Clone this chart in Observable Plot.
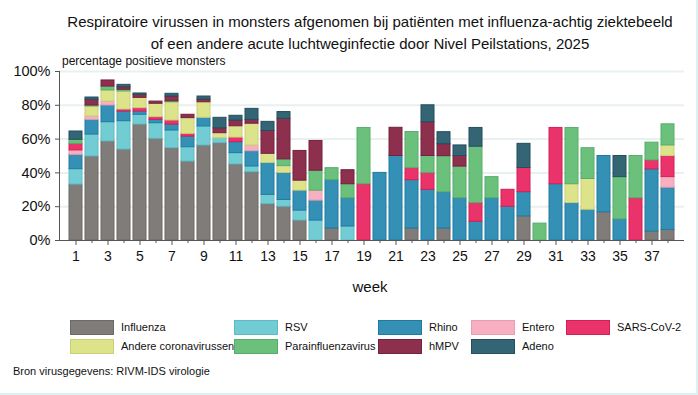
<!DOCTYPE html>
<html><head><meta charset="utf-8">
<script src="https://cdn.jsdelivr.net/npm/d3@7"></script>
<script src="https://cdn.jsdelivr.net/npm/@observablehq/plot@0.6"></script>
<style>
html,body{margin:0;padding:0;background:#fff;overflow:hidden}
body{width:698px;height:395px;position:relative;font-family:"Liberation Sans",Arial,sans-serif;color:#111}
#border{position:absolute;left:0;top:0;width:696px;height:393px;border-right:2px solid #dcf1f1;border-bottom:2px solid #dcf1f1;pointer-events:none}
#title{position:absolute;left:42px;width:656px;top:11px;text-align:center;font-size:15px;line-height:22px}
#ylab{position:absolute;left:62px;top:54px;font-size:12px;line-height:14px}
#chart{position:absolute;left:0;top:0}
#xlab{position:absolute;left:320px;width:100px;top:278px;text-align:center;font-size:15px;line-height:18px}
.sw{position:absolute;width:42px;height:13px;border:1px solid}
.lt{position:absolute;font-size:11px;line-height:14px;white-space:nowrap}
#src{position:absolute;left:13px;top:364px;font-size:11px;line-height:14px}
</style></head>
<body>
<div id="title">Respiratoire virussen in monsters afgenomen bij patiënten met influenza-achtig ziektebeeld<br>of een andere acute luchtweginfectie door Nivel Peilstations, 2025</div>
<div id="chart"></div>
<div id="ylab">percentage positieve monsters</div>
<div id="xlab">week</div>
<div id="legend"></div>
<div id="src">Bron virusgegevens: RIVM-IDS virologie</div>
<div id="border"></div>
<script>
const weeks = [1,2,3,4,5,6,7,8,9,10,11,12,13,14,15,16,17,18,19,20,21,22,23,24,25,26,27,28,29,30,31,32,33,34,35,36,37,38];
const seriesNames = ["Influenza","RSV","Rhino","Entero","SARS-CoV-2","Andere coronavirussen","Parainfluenzavirus","hMPV","Adeno"];
const influenza     = [33.1,49.7,58.6,53.8,68.6,60.2,54.6,46.7,56.2,57.6,45.0,40.4,21.6,20.0,11.8,0,7.1,0,0,0,0,7.1,0,7.1,0,0,0,0,14.3,0,0,0,0,16.7,0,0,5.3,6.25];
const rsv           = [9.1,13.0,11.4,16.8,5.8,9.2,10.5,8.5,11.3,2.9,6.7,3.4,5.4,4.0,5.9,11.8,0,8.3,0,0,0,0,0,0,0,0,0,0,0,0,0,0,0,0,0,0,0,0];
const rhino         = [8.5,8.7,9.9,5.7,1.9,2.0,3.5,6.3,5.1,0,6.5,9.0,18.9,16.0,11.8,11.8,28.6,16.7,0,40.0,50.0,28.6,30.0,21.4,25.0,11.1,25.0,20.0,14.3,0,33.3,22.2,18.2,33.3,12.5,0,36.8,25.0];
const entero        = [2.6,2.0,2.3,0,0,0,0,0,0,0,0,3.4,0,0,0,5.9,0,0,0,0,0,0,0,0,0,0,0,0,0,0,0,0,0,0,0,0,0,6.25];
const sarsCoV2      = [3.9,0,0,1.2,2.0,1.6,2.4,1.6,0,0,2.7,0,0,0,0,0,0,0,33.3,0,0,7.1,10.0,0,0,11.1,0,10.0,14.3,0,33.3,0,0,0,0,25.0,5.3,12.5];
const andereCorona  = [0,5.9,6.6,10.7,6.1,7.9,10.8,9.3,9.2,3.0,6.7,12.9,5.4,4.0,5.9,0,0,0,0,0,0,0,0,0,0,0,0,0,0,0,0,11.1,18.2,0,0,0,0,6.25];
const parainfluenza = [2.4,0.6,2.3,1.0,0,0,0.6,0,0,0,0,0,0,4.0,0,11.8,7.1,8.3,33.3,0,0,21.4,10.0,21.4,18.75,33.3,12.5,0,0,10.0,0,33.3,18.2,0,25.0,25.0,10.5,12.5];
const hmpv          = [0,3.4,3.6,1.5,1.8,1.3,2.8,2.0,1.6,2.9,3.4,2.3,13.5,24.0,17.6,17.6,0,8.3,0,0,16.7,0,20.0,7.1,6.25,0,0,0,0,0,0,0,0,0,0,0,0,0];
const adeno         = [4.9,1.3,0,1.4,0.8,0,1.6,0,1.8,6.2,2.8,6.5,5.4,4.0,0,0,0,0,0,0,0,0,10.0,7.1,6.25,11.1,0,0,14.3,0,0,0,0,0,12.5,0,0,0];
const seriesValues = [influenza,rsv,rhino,entero,sarsCoV2,andereCorona,parainfluenza,hmpv,adeno];
const yTicks = [0,20,40,60,80,100];

// styles
const fills   = ["#7f7c79","#72ccd3","#3590b6","#f6b0c2","#ea336b","#dde38b","#6bc17b","#8c304e","#336575"];
const strokes = ["#6c6966","#5ebac2","#217ba1","#e99db2","#d32058","#c9d078","#57ae68","#76213e","#234f5e"];

const rows = [];
weeks.forEach((w, i) => {
  seriesNames.forEach((name, k) => {
    const v = seriesValues[k][i];
    if (v > 0) rows.push({week: w, series: name, value: v, fill: fills[k], stroke: strokes[k]});
  });
});

const plot = Plot.plot({
  width: 698, height: 300,
  marginTop: 71, marginBottom: 60, marginLeft: 59, marginRight: 14,
  style: {fontFamily: '"Liberation Sans", Arial, sans-serif', color: "#111", background: "transparent", overflow: "visible"},
  x: {type: "band", domain: weeks, paddingInner: 0.21, paddingOuter: 0.06, axis: null},
  y: {domain: [0, 100], axis: null},
  color: {type: "identity"},
  marks: [
    Plot.gridY(yTicks.slice(1), {stroke: "#e9f1f0", strokeOpacity: 1, strokeWidth: 2}),
    Plot.barY(rows, {x: "week", y: "value", z: "series", order: seriesNames, fill: "fill", stroke: "stroke", strokeWidth: 1}),
    Plot.ruleY([0], {stroke: "#555"}),
    Plot.frame({anchor: "left", stroke: "#555"}),
    Plot.axisY(yTicks, {tickSize: 4, tickPadding: 5, tickFormat: d => d + "%", fontSize: 14.5, label: null, stroke: "#555"}),
    Plot.axisX(weeks.filter(w => w % 2 === 1), {tickSize: 5, tickPadding: 6, fontSize: 14, label: null, stroke: "#555"}),
    Plot.axisX(weeks.filter(w => w % 2 === 0), {tickSize: 3, tickFormat: () => "", label: null, stroke: "#555"})
  ]
});
document.getElementById("chart").appendChild(plot);

// legend (2 rows x 5 columns)
const legCols = [70, 234, 378, 471, 566];
const legRows = [320, 339];
const legend = document.getElementById("legend");
seriesNames.forEach((name, k) => {
  const r = k < 5 ? 0 : 1, c = k < 5 ? k : k - 5;
  const sw = document.createElement("div");
  sw.className = "sw";
  sw.style.left = legCols[c] + "px"; sw.style.top = legRows[r] + "px";
  sw.style.background = fills[k]; sw.style.borderColor = strokes[k];
  legend.appendChild(sw);
  const t = document.createElement("div");
  t.className = "lt";
  t.textContent = name;
  t.style.left = (legCols[c] + 51) + "px"; t.style.top = (legRows[r]) + "px";
  legend.appendChild(t);
});
</script>
</body></html>
